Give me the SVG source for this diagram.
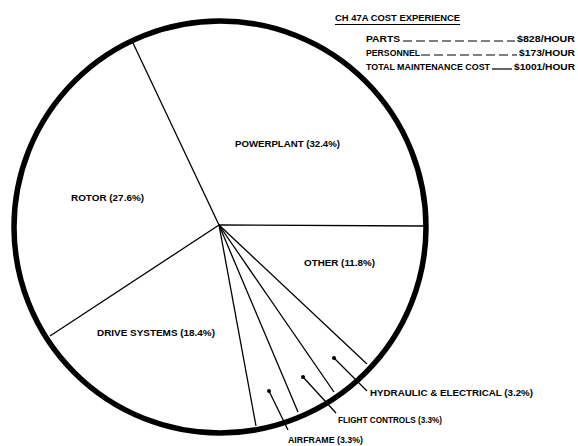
<svg xmlns="http://www.w3.org/2000/svg" width="578" height="446" viewBox="0 0 578 446">
<style>
.t{font-family:"Liberation Sans",Arial,sans-serif;font-weight:bold;font-size:9.5px;fill:#000}
.rad{stroke:#000;stroke-width:1.3;fill:none}
.lead{stroke:#000;stroke-width:1.3;fill:none}
.dash{stroke:#000;stroke-width:1.2;stroke-dasharray:9 4}
</style>
<rect width="578" height="446" fill="#fff"/>
<g id="pie">
<circle cx="220" cy="227" r="206" fill="none" stroke="#000" stroke-width="5.5"/>
</g>
<g id="connectors">
<line class="rad" x1="219" y1="225" x2="133" y2="43"/>
<line class="rad" x1="219" y1="225" x2="424" y2="226"/>
<line class="rad" x1="219" y1="225" x2="367" y2="364"/>
<line class="rad" x1="219" y1="225" x2="334" y2="392"/>
<line class="rad" x1="219" y1="225" x2="298" y2="412"/>
<line class="rad" x1="219" y1="225" x2="256" y2="426"/>
<line class="rad" x1="219" y1="225" x2="50" y2="336"/>
<line class="lead" x1="334" y1="358" x2="367" y2="391"/>
<line class="lead" x1="303" y1="377" x2="336" y2="413"/>
<line class="lead" x1="269" y1="391" x2="288" y2="430"/>
<circle cx="334" cy="358" r="2" fill="#000"/>
<circle cx="303" cy="377" r="2" fill="#000"/>
<circle cx="269" cy="391" r="2" fill="#000"/>
</g>
<g id="powerplant"><text class="t" x="235" y="147" textLength="105" lengthAdjust="spacingAndGlyphs">POWERPLANT (32.4%)</text></g>
<g id="rotor"><text class="t" x="71" y="201" textLength="73" lengthAdjust="spacingAndGlyphs">ROTOR (27.6%)</text></g>
<g id="other"><text class="t" x="304" y="266" textLength="71" lengthAdjust="spacingAndGlyphs">OTHER (11.8%)</text></g>
<g id="drive"><text class="t" x="97" y="336" textLength="118" lengthAdjust="spacingAndGlyphs">DRIVE SYSTEMS (18.4%)</text></g>
<g id="hydraulic"><text class="t" x="370" y="396" textLength="163" lengthAdjust="spacingAndGlyphs">HYDRAULIC &amp; ELECTRICAL (3.2%)</text></g>
<g id="flight"><text class="t" x="338" y="423" textLength="104" lengthAdjust="spacingAndGlyphs">FLIGHT CONTROLS (3.3%)</text></g>
<g id="airframe"><text class="t" x="288" y="443" textLength="75" lengthAdjust="spacingAndGlyphs">AIRFRAME (3.3%)</text></g>
<g id="legend">
<text class="t" x="335" y="21" textLength="125" lengthAdjust="spacingAndGlyphs">CH 47A COST EXPERIENCE</text>
<line x1="335" y1="24.5" x2="460" y2="24.5" stroke="#000" stroke-width="1.2"/>
<text class="t" x="366" y="42" textLength="34" lengthAdjust="spacingAndGlyphs">PARTS</text>
<line class="dash" x1="403" y1="41" x2="515" y2="41"/>
<text class="t" x="517" y="42" textLength="58" lengthAdjust="spacingAndGlyphs">$828/HOUR</text>
<text class="t" x="366" y="56" textLength="54" lengthAdjust="spacingAndGlyphs">PERSONNEL</text>
<line class="dash" x1="421" y1="55" x2="517" y2="55"/>
<text class="t" x="519" y="56" textLength="56" lengthAdjust="spacingAndGlyphs">$173/HOUR</text>
<text class="t" x="366" y="70" textLength="124" lengthAdjust="spacingAndGlyphs">TOTAL MAINTENANCE COST</text>
<line x1="492" y1="69" x2="512" y2="69" stroke="#000" stroke-width="1.2"/>
<text class="t" x="514" y="70" textLength="61" lengthAdjust="spacingAndGlyphs">$1001/HOUR</text>
</g>
</svg>
